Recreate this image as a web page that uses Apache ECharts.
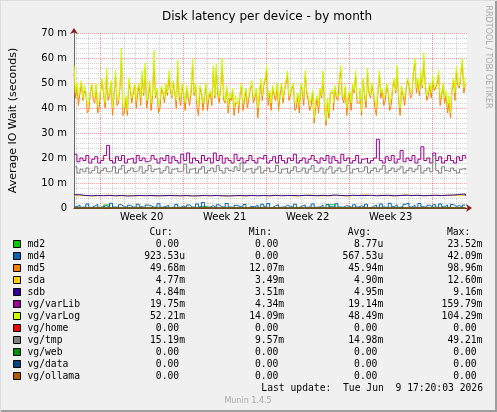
<!DOCTYPE html>
<html><head><meta charset="utf-8">
<script src="https://cdn.jsdelivr.net/npm/echarts@6/dist/echarts.min.js"></script>
<style>html,body{margin:0;padding:0;background:#f0f0f0}#c{width:497px;height:412px}</style>
</head><body><div id="c"></div>
<script>
// ---- data ----
const seriesNames = ['md2','md4','md5','sda','sdb','vg/varLib','vg/varLog','vg/home','vg/tmp','vg/web','vg/data','vg/ollama'];
const seriesColors = ['#00CC00','#0066B3','#FF8000','#FFCC00','#330099','#990099','#CCFF00','#FF0000','#808080','#008F00','#00487D','#B35A00'];
const curText = ['0.00','923.53u','49.68m','4.77m','4.84m','19.75m','52.21m','0.00','15.19m','0.00','0.00','0.00'];
const minText = ['0.00','0.00','12.07m','3.49m','3.51m','4.34m','14.09m','0.00','9.57m','0.00','0.00','0.00'];
const avgText = ['8.77u','567.53u','45.94m','4.90m','4.95m','19.14m','48.49m','0.00','14.98m','0.00','0.00','0.00'];
const maxText = ['23.52m','42.09m','98.96m','12.60m','9.16m','159.79m','104.29m','0.00','49.21m','0.00','0.00','0.00'];

const yTicks = [0,10,20,30,40,50,60,70];          // milliseconds
const weekLabels = ['Week 20','Week 21','Week 22','Week 23'];
const weekStarts = [2.2, 9.2, 16.2, 23.2, 30.2];   // days from graph start
const xMax = 33.14;                                 // days shown
const denseStep = 0.25;                             // days between samples
const coarseStep = 0.5;

// values in ms, one every 6 hours (at 00/06/12/18h)
const varLogVals = [
 57,50,48,44,47,42,50,44,41,48,
 46,56,46,40,55,43,64,41,39,48,
 47,43,50,55,58,45,42,63,48,43,
 47,50,55,45,47,59,44,46,49,44,
 60,50,41,47,45,42,47,57,58,44,
 60,43,41,44,40,43,46,42,48,45,
 51,45,40,52,50,57,47,49,45,42,
 50,48,55,46,50,43,41,48,55,45,
 44,36,45,48,55,35,38,47,49,45,
 57,44,40,47,50,55,44,39,46,56,
 45,47,40,55,48,45,47,44,52,57,
 40,46,48,50,47,60,52,55,62,45,
 50,53,49,55,46,44,41,38,52,57,
 49,60,52.21];
// varLog samples in between (03/09/15/21h)
const varLogMidVals = [
 46,44,51,49,41,47,45,50,43,52,
 42,45,51,47,44,49,40,45,52,44,
 50,48,44,46,43,51,47,45,41,49,
 44,46,49,51,43,45,50,42,45,48,
 46,43,49,42,50,46,44,45,47,50,
 45,49,46,48,45,41,50,45,43,49,
 44,48,46,45,52,44,42,46,50,47,
 44,51,45,49,42,46,50,44,47,42,
 47,43,41,45,43,44,47,42,45,52,
 46,49,45,42,47,44,48,52,43,47,
 50,43,47,46,44,50,42,49,47,45,
 49,44,52,46,55,48,47,49,50,47,
 46,48,51,44,50,47,45,48,46,50,
 55,48];
const md5Vals = [
 54,49,46,43,46,39,49,42,38,47,
 45,53,45,37,53,42,60,38,37,47,
 46,40,49,53,56,44,39,59,47,40,
 46,49,53,44,46,56,41,45,48,41,
 57,49,37,46,44,39,46,55,56,42,
 57,42,38,43,37,42,45,39,47,44,
 49,44,36,50,49,55,46,48,43,39,
 49,47,53,45,49,40,38,47,53,43,
 41,34,44,47,53,33,36,46,48,43,
 55,42,37,46,49,53,42,37,45,54,
 44,46,37,53,47,43,46,41,51,55,
 37,45,47,49,45,58,51,53,59,43,
 49,51,48,53,45,42,38,36,51,55,
 48,58,49.68];
const md5MidVals = [
 44,41,50,47,38,46,43,49,40,51,
 40,43,50,45,41,48,37,44,50,42,
 49,46,41,45,40,50,45,44,38,48,
 42,45,47,50,40,44,49,39,44,46,
 45,40,48,39,49,44,41,44,45,49,
 43,48,44,47,42,38,49,43,40,48,
 42,47,44,43,51,41,39,45,49,45,
 42,50,43,48,39,45,49,41,46,39,
 46,40,38,44,41,42,46,39,44,51,
 44,48,43,39,46,42,47,51,40,46,
 49,40,46,44,41,49,39,48,46,43,
 48,41,51,44,54,46,45,48,49,45,
 44,47,50,41,49,45,42,47,43,49,
 54,46];
const varLibVals = [
 21.5,18.5,20,19,21,18,19.5,20.5,18,19,
 21,25,19,18,20.5,19,21,18,19.5,20,
 18,21,19,20,18.5,19,21,19.5,18,20,
 19,21,18,20.5,19,18,21.5,19,22,18,
 20,19,18,21,19,20,18,22,19,21,
 18,20,19,18,21.5,19,20,18,19,21,
 19,18,20,19.5,21,18,19,20.5,18,21,
 19,18,20,19,21.5,18,19,20,18,19.5,
 21,19,18,20,19,21,18,20.5,19,18,
 21.5,19,20,18,19,21,18,19.5,20,18,
 19,20,27.5,19,18,20.5,19,21,18,19.5,
 23,18.5,20,19,21,18,19.5,24.5,19,20,
 18,22,19,20.5,18,19,21,19,18,20.5,
 19,21,19.75];
const tmpVals = [
 16.5,14,15.5,14.5,16,14,15,16.5,14,15,
 16,14.5,15,16.5,14,15.5,17,14,15,16,
 14.5,15,16.5,14,15,17,14.5,15.5,16,14,
 15,16.5,14,15.5,16,14.5,15,17.5,14,15.5,
 16,14,15.5,16.5,14,15,16,14.5,17,15,
 14,16,15,14.5,16.5,15,18,14.5,15.5,16,
 14,15.5,16.5,14,15,16,14.5,15,17,14,
 15.5,16,14,15,16.5,14.5,15,16,14,15.5,
 17,14.5,15,16,14,15.5,16.5,14,15,16,
 14.5,15,17,14,15.5,16,14.5,15,16.5,14,
 15,16,14.5,15.5,17,14,15,16,14.5,15.5,
 16.5,14,15,16,14.5,15.5,17,14,15,16,
 14.5,21,15,14,16.5,15,14.5,16,15,14,
 15.5,16,15.19];
const md4Vals = [
 0.5,1.2,0.3,0.4,1.6,0.2,0.8,1.4,0.3,0.5,
 1.0,0.2,1.9,0.4,0.3,1.3,0.6,0.2,1.1,0.4,
 0.3,1.5,0.5,0.2,1.2,0.9,0.3,0.4,1.7,0.3,
 0.6,1.1,0.2,0.5,1.4,0.3,0.8,0.2,1.2,0.4,
 0.3,1.6,0.5,2.2,0.3,0.4,1.0,0.2,1.3,0.5,
 0.3,1.8,0.4,0.2,1.1,0.6,0.3,1.4,0.2,0.7,
 0.4,1.2,0.3,1.5,0.5,1.8,0.2,0.9,1.3,0.3,
 0.4,1.1,0.6,0.3,1.5,0.2,0.8,1.2,0.3,0.5,
 1.6,0.3,0.4,1.2,0.2,1.4,0.5,0.3,1.7,0.4,
 0.3,1.0,0.6,0.2,1.3,0.4,0.9,0.3,1.5,0.2,
 0.5,1.2,0.3,1.6,0.4,0.2,1.9,0.5,1.3,0.3,
 0.6,1.5,2.0,0.4,1.2,0.3,1.8,0.5,0.2,1.1,
 0.4,1.3,0.3,1.6,0.5,1.2,0.3,1.4,0.6,1.0,
 0.3,1.2,0.92];
// values in ms, one every 12 hours
const sdaVals = [
 4.9,5.0,4.8,4.9,5.0,5.2,4.8,4.9,5.0,4.8,
 4.9,5.1,4.9,4.8,5.0,4.9,5.2,4.8,4.9,5.0,
 4.8,5.0,4.9,5.1,4.8,4.9,5.0,4.9,4.8,5.1,
 4.9,5.0,4.8,4.9,5.1,5.0,4.8,4.9,5.0,5.2,
 4.9,4.8,5.0,4.9,5.1,4.8,4.9,5.0,5.3,4.9,
 5.0,5.2,4.9,4.8,5.0,5.3,4.9,5.0,4.9,5.1,
 5.0,4.9,5.2,5.0,4.9,5.0,4.77];
const sdbVals = [
 5.3,5.0,4.9,5.0,4.9,5.0,4.9,5.0,4.8,4.9,
 5.0,4.9,5.0,4.9,4.9,5.0,4.9,4.9,5.0,4.8,
 4.9,5.0,4.9,5.0,4.9,4.8,4.9,5.0,4.9,5.0,
 4.9,5.0,4.9,5.1,4.9,5.0,5.0,4.9,5.1,5.0,
 4.9,5.1,4.9,5.2,5.0,4.9,5.1,5.0,5.0,5.1,
 4.9,5.0,5.1,4.9,5.0,5.1,5.0,5.1,4.9,5.0,
 5.1,5.0,5.1,5.2,5.4,5.6,4.84];
const md2Vals = [
 0,0,0,0,0,1.2,0,0,0,0,
 0,0,0,0,0,0,0,0,0,0,
 0,0.8,0,0,0,0,0,0,0,0,
 0,0,0,0,0,0,0,0,0,0,
 0,0,0,1.3,0,0,0,0,0,0,
 0,0,0,0,0,0,0,0,0,0,
 0,0,0,0,0,0,0];
const flatTimes = [0, 33];
const homeVals = [0, 0];
const webVals = [0, 0];
const dataVals = [0, 0];
const ollamaVals = [0, 0];

// ---- build ----
const withStep = (vals, step) => vals.map((v, i) => [i * step, v]);
const withTimes = (vals, times) => vals.map((v, i) => [times[i], v]);
// merge on-grid samples with the in-between samples, ordered by time
const withMid = (vals, mids, step) => {
  const out = [];
  vals.forEach((v, i) => {
    out.push([i * step, v]);
    if (i < mids.length) out.push([i * step + step / 2, mids[i]]);
  });
  return out;
};
const seriesData = [
  withStep(md2Vals, coarseStep),
  withStep(md4Vals, denseStep),
  withMid(md5Vals, md5MidVals, denseStep),
  withStep(sdaVals, coarseStep),
  withStep(sdbVals, coarseStep),
  withStep(varLibVals, denseStep),
  withMid(varLogVals, varLogMidVals, denseStep),
  withTimes(homeVals, flatTimes),
  withStep(tmpVals, denseStep),
  withTimes(webVals, flatTimes),
  withTimes(dataVals, flatTimes),
  withTimes(ollamaVals, flatTimes)
];

const weekLabelPos = weekStarts.slice(0, weekLabels.length).map(w => w + 3.5);
const dayLines = [];
for (let d = weekStarts[0] % 1; d < xMax; d += 1) {
  const v = +d.toFixed(3);
  if (!weekStarts.some(w => Math.abs(w - v) < 0.01)) dayLines.push(v);
}

function cell(s) {
  const hasUnit = /[a-z]$/i.test(s);
  const num = hasUnit ? s.slice(0, -1) : s;
  return num.padStart(6) + (hasUnit ? s.slice(-1) : ' ');
}
const gap = ' '.repeat(10);
const rowText = {};
seriesNames.forEach((n, k) => {
  rowText[n] = n.padEnd(20) + cell(curText[k]) + gap + cell(minText[k]) + gap + cell(avgText[k]) + gap + cell(maxText[k]);
});
const headerText = ' '.repeat(21) + 'Cur:' + ' '.repeat(13) + 'Min:' + ' '.repeat(13) + 'Avg:' + ' '.repeat(13) + 'Max:';

const MONO = '"DejaVu Sans Mono"';
const SANS = '"DejaVu Sans"';
const majorGrid = {color: 'rgba(255,0,0,0.38)', type: [1, 1], width: 1};
const majorGridV = {color: 'rgba(255,0,0,0.45)', type: [1, 1], width: 1};
const minorGrid = {color: 'rgba(150,150,150,0.45)', type: [1, 1], width: 1};

const chart = echarts.init(document.getElementById('c'));
chart.setOption({
  animation: false,
  backgroundColor: '#f0f0f0',
  title: {
    text: 'Disk latency per device - by month', left: 157, top: 6,
    textStyle: {fontFamily: SANS, fontSize: 12, fontWeight: 'normal', color: '#000'}
  },
  grid: {left: 67, right: 30, top: 33, bottom: 204, show: true, backgroundColor: '#ffffff', borderWidth: 0},
  xAxis: [{
    type: 'value', min: 0, max: xMax, z: 1,
    axisLine: {show: true, lineStyle: {color: '#8b1a1a'}, symbol: ['none', 'arrow'], symbolSize: [6, 6], symbolOffset: [0, 5]},
    axisTick: {show: false, customValues: weekStarts},
    axisLabel: {
      customValues: weekLabelPos, margin: 4,
      fontFamily: SANS, fontSize: 10, color: '#000',
      formatter: v => { const k = weekLabelPos.findIndex(p => Math.abs(p - v) < 1e-6); return k >= 0 ? weekLabels[k] : ''; }
    },
    splitLine: {show: true, lineStyle: majorGridV}
  }, {
    type: 'value', min: 0, max: xMax, z: 0,
    axisLine: {show: false}, axisTick: {show: false, customValues: dayLines}, axisLabel: {show: false},
    splitLine: {show: true, lineStyle: minorGrid}
  }],
  yAxis: [{
    type: 'value', min: yTicks[0], max: yTicks[yTicks.length - 1], interval: 10, z: 1,
    name: 'Average IO Wait (seconds)', nameLocation: 'middle', nameGap: 55, nameRotate: 90,
    nameTextStyle: {fontFamily: SANS, fontSize: 11, color: '#000'},
    axisLine: {show: true, lineStyle: {color: '#666'}},
    axisTick: {show: false},
    axisLabel: {margin: 7, fontFamily: SANS, fontSize: 10, color: '#000', formatter: v => v === 0 ? '0' : v + ' m'},
    splitLine: {show: true, lineStyle: majorGrid},
    minorTick: {show: false, splitNumber: 5},
    minorSplitLine: {show: true, lineStyle: minorGrid}
  }, {
    type: 'value', min: yTicks[0], max: yTicks[yTicks.length - 1], position: 'left', z: 1,
    axisLine: {show: true, lineStyle: {color: '#8b1a1a', width: 0}, symbol: ['none', 'arrow'], symbolSize: [6, 6], symbolOffset: [0, 5]},
    axisTick: {show: false}, axisLabel: {show: false}, splitLine: {show: false}
  }],
  legend: {
    orient: 'vertical', left: 13, top: 238, padding: 0, icon: 'rect', itemWidth: 7, itemHeight: 7, itemGap: 0,
    selectedMode: false, data: seriesNames,
    formatter: n => rowText[n],
    textStyle: {fontFamily: MONO, fontSize: 9.7, color: '#000', lineHeight: 12, padding: [0, 0, 0, 2]},
    itemStyle: {borderColor: '#000', borderWidth: 1}
  },
  series: seriesNames.map((n, k) => ({
    name: n, type: 'line', step: 'end', symbol: 'none', showSymbol: false,
    data: seriesData[k], color: seriesColors[k],
    lineStyle: {width: 1, color: seriesColors[k]},
    emphasis: {disabled: true}
  })),
  graphic: [
    {type: 'rect', shape: {x: 0, y: 410, width: 497, height: 2}, style: {fill: '#9e9e9e'}, silent: true},
    {type: 'rect', shape: {x: 495, y: 0, width: 2, height: 412}, style: {fill: '#9e9e9e'}, silent: true},
    {type: 'rect', shape: {x: 0, y: 0, width: 497, height: 1}, style: {fill: '#dcdcdc'}, silent: true},
    {type: 'rect', shape: {x: 0, y: 0, width: 1, height: 412}, style: {fill: '#dcdcdc'}, silent: true},
    {type: 'text', x: 27, y: 232, silent: true,
     style: {text: headerText, font: '9.7px ' + MONO, fill: '#000', textAlign: 'left', textVerticalAlign: 'middle', align: 'left', verticalAlign: 'middle'}},
    {type: 'text', x: 483, y: 388, silent: true,
     style: {text: 'Last update:  Tue Jun  9 17:20:03 2026', font: '9.7px ' + MONO, fill: '#000', textAlign: 'right', textVerticalAlign: 'middle', align: 'right', verticalAlign: 'middle'}},
    {type: 'text', x: 248, y: 401, silent: true,
     style: {text: 'Munin 1.4.5', font: '8px ' + SANS, fill: '#a8a8a8', textAlign: 'center', textVerticalAlign: 'middle', align: 'center', verticalAlign: 'middle'}},
    {type: 'text', x: 488, y: 57, rotation: -Math.PI / 2, silent: true,
     style: {text: 'RRDTOOL / TOBI OETIKER', font: '8px ' + SANS, fill: '#a8a8a8', textAlign: 'center', textVerticalAlign: 'middle', align: 'center', verticalAlign: 'middle'}}
  ]
});
</script>
</body></html>
